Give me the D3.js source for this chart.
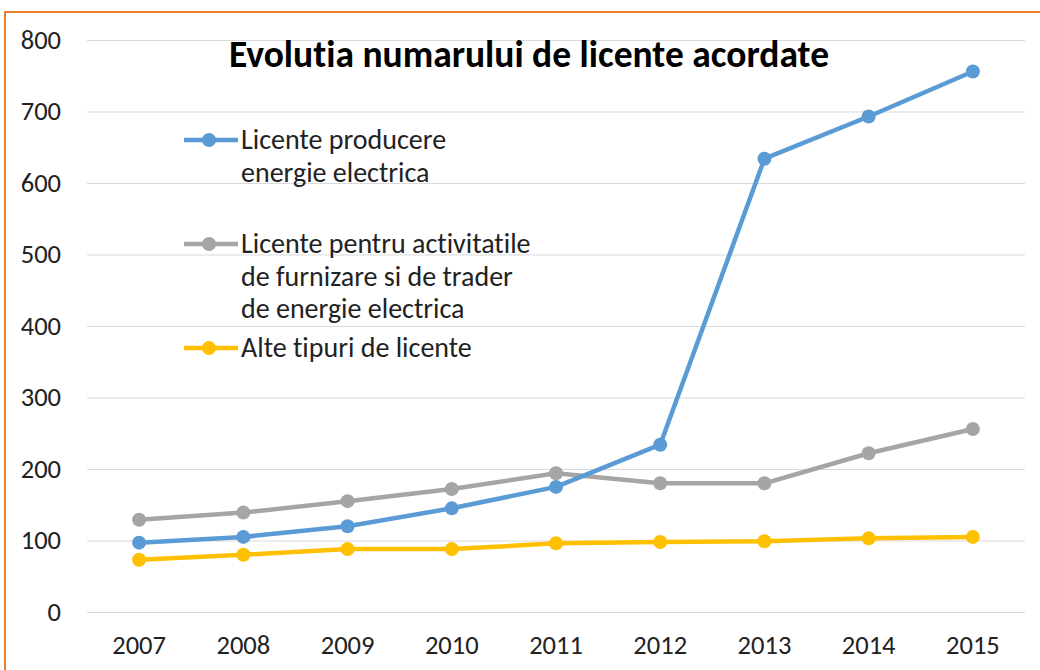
<!DOCTYPE html>
<html><head><meta charset="utf-8">
<script src="https://cdn.jsdelivr.net/npm/d3@7"></script>
<style>body{margin:0;background:#fff}svg{display:block}text{font-variant-ligatures:none;font-feature-settings:"liga" 0,"clig" 0}</style>
</head><body><svg id="c" width="1040" height="670"></svg>
<script>
const years = ["2007","2008","2009","2010","2011","2012","2013","2014","2015"];
const producere = [97,105,120,145,175,234,634,693,756];
const furnizare = [129,139,155,172,194,180,180,222,256];
const alte = [73,80,88,88,96,98,99,103,105];
const yTicks = [0,100,200,300,400,500,600,700,800];
const seriesNames = [["Licente producere","energie electrica"],["Licente pentru activitatile","de furnizare si de trader","de energie electrica"],["Alte tipuri de licente"]];
const colors = ["#5B9BD5","#A5A5A5","#FFC000"];
const title = "Evolutia numarului de licente acordate";

const svg = d3.select("#c");
const font = "Calibri, Carlito, 'Open Sans', 'Liberation Sans', sans-serif";
svg.append("rect").attr("x",5).attr("y",12).attr("width",1045).attr("height",670).attr("fill","#fff").attr("stroke","#ED7D31").attr("stroke-width",2);

const x = d3.scaleBand().domain(years).range([87,1025]);
const y = d3.scaleLinear().domain([0,800]).range([612,40]);

const grid = svg.append("g");
grid.selectAll("line").data(yTicks).join("line")
  .attr("x1",87).attr("x2",1025).attr("y1",d=>y(d)+0.5).attr("y2",d=>y(d)+0.5)
  .attr("stroke","#d9d9d9").attr("stroke-width",1);

const yAxis = svg.append("g").attr("transform","translate(87,0)")
  .call(d3.axisLeft(y).tickValues(yTicks).tickSize(0).tickPadding(26));
yAxis.select(".domain").remove();
yAxis.selectAll("text").attr("font-family",font).attr("font-size",26.5).attr("fill","#222");

const xAxis = svg.append("g").attr("transform","translate(0,612)")
  .call(d3.axisBottom(x).tickSize(0));
xAxis.select(".domain").remove();
xAxis.selectAll("text").attr("font-family",font).attr("font-size",26.5).attr("fill","#222").attr("y",42).attr("dy",null);

const data = [producere, furnizare, alte];
const line = d3.line().x((d,i)=>x(years[i])+x.bandwidth()/2).y(d=>y(d));
[1,0,2].forEach(k=>{
  const g = svg.append("g");
  g.append("path").datum(data[k]).attr("d",line).attr("fill","none").attr("stroke",colors[k]).attr("stroke-width",4.5).attr("stroke-linejoin","round");
  g.selectAll("circle").data(data[k]).join("circle")
    .attr("cx",(d,i)=>x(years[i])+x.bandwidth()/2).attr("cy",d=>y(d)).attr("r",7).attr("fill",colors[k]);
});

svg.append("text").attr("x",529).attr("y",67).attr("text-anchor","middle")
  .attr("font-family",font).attr("font-size",37.5).attr("font-weight","bold").attr("fill","#000").text(title);

const legY = [140,244,348];
const lg = svg.append("g");
seriesNames.forEach((lines,k)=>{
  lg.append("line").attr("x1",184).attr("x2",238).attr("y1",legY[k]).attr("y2",legY[k]).attr("stroke",colors[k]).attr("stroke-width",4.5);
  lg.append("circle").attr("cx",209).attr("cy",legY[k]).attr("r",7).attr("fill",colors[k]);
  lines.forEach((t,j)=>{
    lg.append("text").attr("x",241).attr("y",legY[k]+9+j*32.5).attr("font-family",font).attr("font-size",28).attr("fill","#222").text(t);
  });
});
</script></body></html>
